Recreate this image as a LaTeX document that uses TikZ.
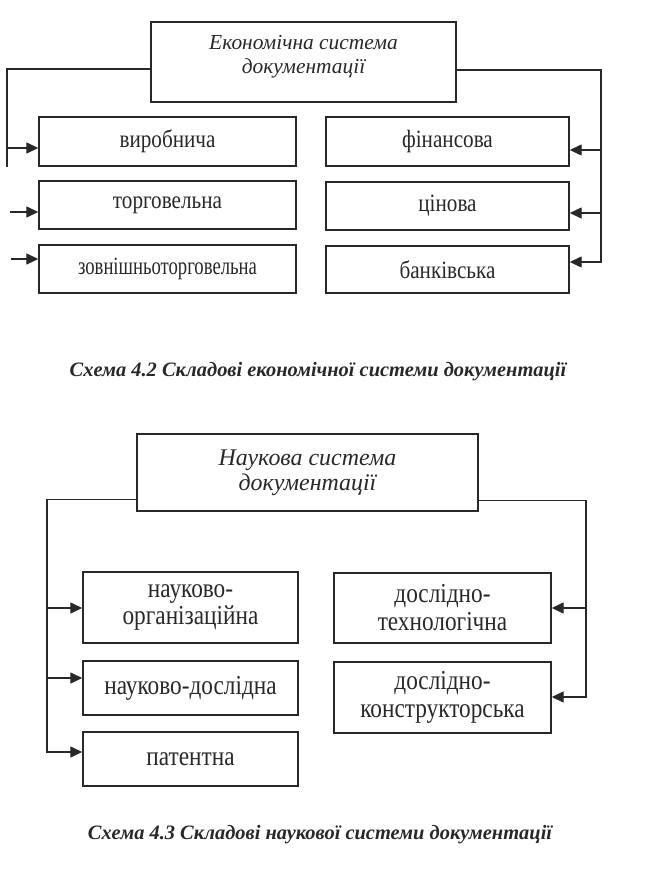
\documentclass[tikz,border=0pt]{standalone}
\usepackage{fontspec}
\setmainfont{Liberation Serif}
\newfontfamily\condfont[FakeStretch=0.85]{Liberation Serif}
\newfontfamily\narrowfont[FakeStretch=0.75]{Liberation Serif}
\usetikzlibrary{arrows.meta}
\definecolor{ink}{RGB}{40,40,40}
\begin{document}
\begin{tikzpicture}[x=1bp,y=-1bp,
  box/.style={draw=ink, line width=1.4bp, rectangle, inner sep=0pt, align=center, text=ink},
  labA/.style={font=\condfont\fontsize{25}{27}\selectfont},
  labB/.style={font=\condfont\fontsize{27.5}{28}\selectfont},
  ttlA/.style={font=\itshape\fontsize{21.5}{24}\selectfont},
  ttlB/.style={font=\itshape\fontsize{24}{25}\selectfont},
  capt/.style={text=ink, inner sep=0pt, font=\bfseries\itshape\fontsize{20.5}{22}\selectfont},
  conn/.style={draw=ink, line width=1.4bp},
  arr/.style={conn, -{Triangle[length=12bp,width=11bp]}},
]
\useasboundingbox (0,0) rectangle (672,882);

% ---------- diagram 1 ----------
\node[box, minimum width=305bp, minimum height=80bp] (eco) at (303.5,62) {};
\node[ttlA, text=ink, align=center, inner sep=0pt] (ecot) at (303.5,57) {Економічна система\\документації};
\node[box, labA, minimum width=257bp, minimum height=49bp] (vyr) at (167.5,141.5) {виробнича};
\node[box, labA, minimum width=257bp, minimum height=48bp] (torg) at (167.5,205) {торговельна};
\node[box, minimum width=257bp, minimum height=48bp] (zovn) at (167.5,269) {\narrowfont\fontsize{25}{27}\selectfont зовнішньоторговельна};
\node[box, labA, minimum width=243bp, minimum height=49bp] (fin) at (447.5,141.5) {фінансова};
\node[box, labA, minimum width=243bp, minimum height=48bp] (cin) at (447.5,206) {цінова};
\node[box, labA, minimum width=243bp, minimum height=47bp] (bank) at (447.5,269.5) {банківська};

\coordinate (lbot) at (7,167);
\coordinate (la1) at (7,148);
\coordinate (la2) at (9.5,212);
\coordinate (la3) at (11,259);
\draw[conn] ([yshift=-7bp]eco.west) -| (lbot);
\draw[arr] (la1) -- (la1 -| vyr.west);
\draw[arr] (la2) -- (la2 -| torg.west);
\draw[arr] (la3) -- (la3 -| zovn.west);

\coordinate (ra1) at (601,150);
\coordinate (ra2) at (601,213);
\coordinate (ra3) at (601,262);
\draw[arr] ([yshift=-8bp]eco.east) -| (ra3) -- (ra3 -| bank.east);
\draw[arr] (ra1) -- (ra1 -| fin.east);
\draw[arr] (ra2) -- (ra2 -| cin.east);

\node[capt] (cap1) at (318,372) {Схема 4.2 Складові економічної системи документації};

% ---------- diagram 2 ----------
\node[box, ttlB, minimum width=341bp, minimum height=77bp] (nauk) at (307.5,472.5) {Наукова система\\документації};
\node[box, labB, minimum width=215bp, minimum height=71bp] (norg) at (190.5,607.5) {науково-\\організаційна};
\node[box, labB, minimum width=215bp, minimum height=54bp] (ndos) at (190.5,688) {науково-дослідна};
\node[box, labB, minimum width=215bp, minimum height=54bp] (pat) at (190.5,759) {патентна};
\node[box, labB, minimum width=217bp, minimum height=70bp] (dtex) at (442.5,608) {дослідно-\\технологічна};
\node[box, labB, minimum width=217bp, minimum height=71bp] (dkon) at (442.5,697.5) {дослідно-\\конструкторська};

\coordinate (lb1) at (47,608);
\coordinate (lb2) at (47,678);
\coordinate (lb3) at (47,752);
\draw[arr] ([yshift=-27bp]nauk.west) -| (lb3) -- (lb3 -| pat.west);
\draw[arr] (lb1) -- (lb1 -| norg.west);
\draw[arr] (lb2) -- (lb2 -| ndos.west);

\coordinate (rb1) at (586,608);
\coordinate (rb2) at (586,697);
\draw[arr] ([yshift=-28bp]nauk.east) -| (rb2) -- (rb2 -| dkon.east);
\draw[arr] (rb1) -- (rb1 -| dtex.east);

\node[capt] (cap2) at (320,835) {Схема 4.3 Складові наукової системи документації};
\end{tikzpicture}
\end{document}
